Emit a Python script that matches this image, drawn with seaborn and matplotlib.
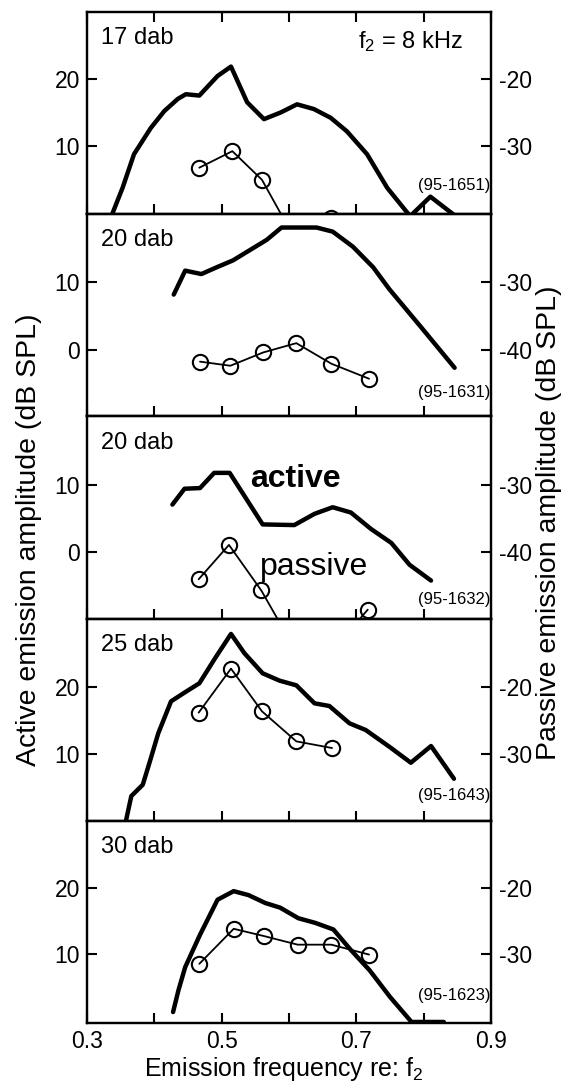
import matplotlib
matplotlib.use("Agg")
import matplotlib.pyplot as plt
import seaborn as sns

# emission frequency re: f2, active (left axis) and passive (right axis) amplitudes, dB SPL
act_f_17 = [0.336, 0.353, 0.370, 0.395, 0.415, 0.435, 0.447, 0.467, 0.494, 0.514, 0.538,
            0.563, 0.588, 0.612, 0.637, 0.662, 0.686, 0.716, 0.746, 0.780, 0.810, 0.845]
act_v_17 = [-0.5, 3.8, 8.8, 12.7, 15.2, 17.0, 17.7, 17.5, 20.4, 21.8, 16.5,
            14.0, 15.0, 16.2, 15.5, 14.2, 12.2, 8.8, 3.8, -0.4, 2.5, -0.2]
pas_f_17 = [0.467, 0.516, 0.560, 0.610, 0.662]
pas_v_17 = [-33.2, -30.75, -35.0, -44.0, -40.6]

act_f_20a = [0.429, 0.446, 0.470, 0.493, 0.517, 0.542, 0.567, 0.589, 0.641, 0.665,
             0.695, 0.725, 0.749, 0.794, 0.846]
act_v_20a = [8.1, 11.6, 11.1, 12.1, 13.1, 14.6, 16.1, 17.9, 17.9, 17.3,
             15.1, 12.1, 8.9, 3.6, -2.6]
pas_f_20a = [0.468, 0.513, 0.562, 0.611, 0.663, 0.719]
pas_v_20a = [-41.7, -42.3, -40.35, -39.0, -42.0, -44.2]

act_f_20b = [0.427, 0.445, 0.468, 0.489, 0.512, 0.534, 0.561, 0.608, 0.638, 0.665,
             0.692, 0.722, 0.752, 0.779, 0.811]
act_v_20b = [7.1, 9.5, 9.6, 11.9, 11.9, 8.4, 4.1, 4.0, 5.7, 6.7,
             5.9, 3.4, 1.3, -2.0, -4.4]
pas_f_20b = [0.466, 0.511, 0.559, 0.610, 0.665, 0.717]
pas_v_20b = [-44.2, -39.0, -45.9, -55.0, -55.0, -48.8]

act_f_25 = [0.357, 0.366, 0.383, 0.393, 0.406, 0.425, 0.448, 0.467, 0.490, 0.514, 0.534,
            0.561, 0.586, 0.611, 0.638, 0.660, 0.690, 0.714, 0.749, 0.781, 0.811, 0.845]
act_v_25 = [-0.5, 3.7, 5.4, 8.7, 13.1, 17.9, 19.4, 20.6, 24.3, 28.0, 25.1,
            22.1, 21.0, 20.3, 17.6, 17.2, 14.6, 13.6, 11.1, 8.7, 11.2, 6.3]
pas_f_25 = [0.466, 0.514, 0.560, 0.611, 0.664]
pas_v_25 = [-23.8, -17.2, -23.6, -28.1, -29.1]

act_f_30 = [0.428, 0.436, 0.446, 0.468, 0.494, 0.518, 0.540, 0.565, 0.587, 0.614,
            0.639, 0.666, 0.691, 0.720, 0.750, 0.782, 0.830]
act_v_30 = [1.2, 4.5, 8.0, 12.9, 18.2, 19.5, 18.9, 17.7, 17.0, 15.4,
            14.7, 13.7, 10.7, 7.5, 3.5, -0.3, -0.3]
pas_f_30 = [0.467, 0.518, 0.563, 0.613, 0.663, 0.719]
pas_v_30 = [-31.5, -26.2, -27.3, -28.6, -28.6, -30.1]

levels = ["17 dab", "20 dab", "20 dab", "25 dab", "30 dab"]
ids = ["(95-1651)", "(95-1631)", "(95-1632)", "(95-1643)", "(95-1623)"]
left_ticks = [[10, 20], [0, 10], [0, 10], [10, 20], [10, 20]]
right_ticks = [[-30, -20], [-40, -30], [-40, -30], [-30, -20], [-30, -20]]
x_ticks = [0.3, 0.4, 0.5, 0.6, 0.7, 0.8, 0.9]
x_labels = ["0.3", "", "0.5", "", "0.7", "", "0.9"]

panels = [
    (act_f_17, act_v_17, pas_f_17, pas_v_17),
    (act_f_20a, act_v_20a, pas_f_20a, pas_v_20a),
    (act_f_20b, act_v_20b, pas_f_20b, pas_v_20b),
    (act_f_25, act_v_25, pas_f_25, pas_v_25),
    (act_f_30, act_v_30, pas_f_30, pas_v_30),
]
ylims = [(-0.1, 29.9), (-9.7, 19.85), (-10.15, 20.45), (0.0, 30.3), (-0.45, 30.15)]
id_y = [0.14, 0.116, 0.093, 0.123, 0.137]
offset = 40  # passive axis = active axis - 40 dB

sns.set_style("ticks")
plt.rcParams["font.family"] = ["Liberation Sans", "DejaVu Sans"]
plt.rcParams["mathtext.default"] = "regular"
plt.rcParams["axes.unicode_minus"] = False
for k in ["text.color", "axes.labelcolor", "xtick.color", "ytick.color",
          "axes.edgecolor", "xtick.labelcolor", "ytick.labelcolor"]:
    plt.rcParams[k] = "black"

fig, axes = plt.subplots(5, 1, figsize=(5.79, 10.9), dpi=100, sharex=True,
                         gridspec_kw=dict(hspace=0))
fig.subplots_adjust(left=0.150, right=0.848, top=0.989, bottom=0.0615)

for i, ax in enumerate(axes):
    af, av, pf, pv = panels[i]
    sns.lineplot(x=af, y=av, ax=ax, color="black", lw=3.2, sort=False)
    ax.set_xlim(0.3, 0.9)
    ax.set_ylim(*ylims[i])
    ax.set_yticks(left_ticks[i])
    ax.set_xticks(x_ticks)
    ax.set_xticklabels(x_labels)
    ax.tick_params(direction="in", length=7, width=1.5, labelsize=16.5, pad=5,
                   top=(i == 0), right=False)
    for s in ax.spines.values():
        s.set_linewidth(1.6)
        s.set_visible(True)
    ax.set_xlabel("")
    ax.set_ylabel("")

    ax2 = ax.twinx()
    sns.lineplot(x=pf, y=pv, ax=ax2, color="black", lw=1.3, sort=False,
                 marker="o", markersize=11, markerfacecolor="none",
                 markeredgecolor="black", markeredgewidth=1.5)
    ax2.set_ylim(ylims[i][0] - offset, ylims[i][1] - offset)
    ax2.set_yticks(right_ticks[i])
    ax2.set_yticklabels([str(t) for t in right_ticks[i]])
    ax2.tick_params(direction="in", length=7, width=1.5, labelsize=16.5, pad=6)
    for s in ax2.spines.values():
        s.set_linewidth(1.6)
    ax2.set_ylabel("")

    ax.text(0.035, 0.87, levels[i], transform=ax.transAxes, fontsize=17,
            va="center", ha="left")
    ax2.text(0.998, id_y[i], ids[i], transform=ax.transAxes, fontsize=12,
             va="center", ha="right")

axes[0].text(0.93, 0.856, "f$_2$ = 8 kHz", transform=axes[0].transAxes,
             fontsize=17, va="center", ha="right")
axes[2].text(0.542, 9.7, "active", fontsize=23, fontweight="bold", va="baseline")
axes[2].text(0.557, -3.5, "passive", fontsize=23, va="baseline")

fig.text(0.05, 0.505, "Active emission amplitude (dB SPL)", rotation=90,
         fontsize=20.5, ha="center", va="center")
fig.text(0.948, 0.52, "Passive emission amplitude (dB SPL)", rotation=90,
         fontsize=20.5, ha="center", va="center")
fig.text(0.49, 0.013, "Emission frequency re: f$_2$", fontsize=18,
         ha="center", va="baseline")

fig.savefig("out.png", dpi=100)
